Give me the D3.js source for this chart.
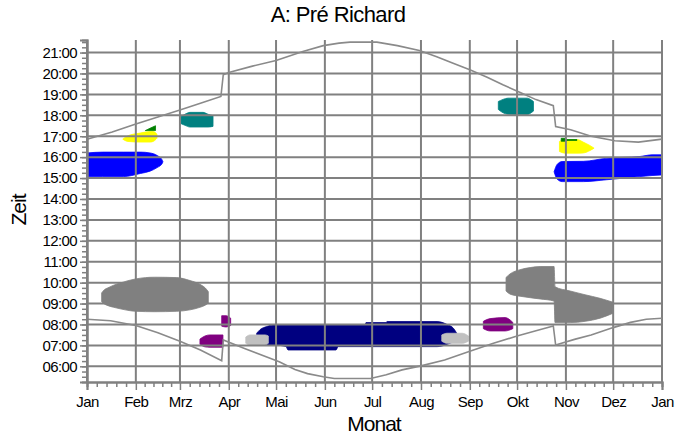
<!DOCTYPE html>
<html><head><meta charset="utf-8">
<script src="https://cdn.jsdelivr.net/npm/d3@7"></script>
<style>
body{margin:0;background:#fff}
text{font-family:Arial,"Liberation Sans",sans-serif;fill:#000}
</style>
</head><body>
<svg id="c" width="676" height="437"></svg>
<script>
// ---- data (day of year, hours) ----
const title = "A: Pré Richard";
const xTitle = "Monat";
const yTitle = "Zeit";
const monthLabels = ["Jan","Feb","Mrz","Apr","Mai","Jun","Jul","Aug","Sep","Okt","Nov","Dez","Jan"];
const hourTicks = [6,7,8,9,10,11,12,13,14,15,16,17,18,19,20,21];

// sunrise / sunset: [day, hour]
const sunrise = [[0,8.25],[15,8.18],[31,7.95],[45,7.6],[59,7.2],[72,6.78],[85.5,6.27],[86.5,7.26],[100,6.85],[122,6.22],[132,5.85],[140,5.65],[150,5.5],[157,5.42],[180,5.42],[190,5.6],[200,5.83],[212,6.02],[227,6.3],[243,6.72],[258,7.1],[273,7.45],[285,7.7],[296,7.93],[297.5,7.02],[310,7.3],[320,7.5],[334,7.85],[345,8.1],[355,8.25],[365,8.3]];
const sunset = [[0,16.86],[16,17.2],[31,17.58],[45,17.92],[59,18.25],[72,18.58],[85,18.9],[86.5,19.94],[90,20.05],[105,20.35],[120,20.62],[137,21.05],[150,21.33],[160,21.45],[167,21.5],[184,21.5],[197,21.33],[211,21.1],[222,20.8],[232,20.5],[243,20.18],[254,19.82],[264,19.46],[275,19.09],[285,18.75],[296,18.46],[297.5,17.46],[307,17.31],[320,17.0],[335,16.78],[350,16.72],[365,16.86]];

// activity areas: [day, lowHour, highHour]
const grayWinter = [[9.3,9.09,9.51],[11,8.98,9.66],[13.3,8.9,9.75],[17,8.82,9.88],[21,8.75,9.98],[31,8.63,10.18],[43,8.61,10.26],[57,8.63,10.24],[65.4,8.7,10.1],[71.7,8.82,9.92],[75,8.92,9.75],[77,9.02,9.57]];
const grayAutumn = [[266,9.6,10.25],[268.6,9.45,10.42],[274.9,9.35,10.62],[281.3,9.28,10.72],[287.6,9.22,10.77],[296.5,9.12,10.77],[297.1,8.09,9.8],[306.7,8.09,9.6],[316.2,8.15,9.42],[325.7,8.3,9.25],[334,8.54,9.06]];
const blueJan = [[0,15.07,16.2],[10,15.07,16.24],[23,15.07,16.24],[34,15.22,16.24],[40,15.33,16.2],[44.5,15.5,16.08],[47.6,15.68,15.88],[48.2,15.78,15.78]];
const blueNov = [[296.5,15.3,15.3],[298.4,14.95,15.65],[301.6,14.83,15.79],[315,14.83,15.8],[330,14.92,15.95],[351,15.07,16.03],[358.7,15.12,16.11],[365,15.15,16.11]];
const yellowFeb = [[22.7,16.86,16.86],[26,16.75,17.02],[33.7,16.72,17.15],[40,16.72,17.22],[42,16.75,17.22],[44.4,16.9,17.1]];
const greenFeb = [[37,17.27,17.27],[40,17.27,17.38],[43.5,17.27,17.5]];
const yellowNov = [[299.9,16.27,16.75],[303.5,16.19,16.83],[311.7,16.19,16.83],[314.9,16.2,16.72],[319.4,16.32,16.55],[321.9,16.43,16.43]];
const greenNov = [[301,16.76,16.9],[304,16.76,16.9],[304.2,16.8,16.84],[311,16.8,16.84]];
const tealMar = [[59.7,17.6,17.94],[62.2,17.52,18.05],[65.4,17.44,18.14],[73.7,17.44,18.14],[76.8,17.44,18.05],[80,17.47,17.98]];
const tealOct = [[261.1,18.28,18.66],[264.1,18.12,18.76],[267.3,18.05,18.82],[279.4,18.03,18.82],[281.9,18.12,18.74],[283.4,18.2,18.66]];
const purpleMar = [[71.7,7.05,7.3],[74.9,6.93,7.45],[78.1,6.91,7.5],[86.3,6.91,7.5]];
const purpleApr = [[85.5,7.92,8.42],[88.3,7.88,8.42],[91.2,7.95,8.3]];
const purpleSep = [[251.6,7.8,8.15],[255.9,7.69,8.28],[265.4,7.69,8.33],[270.3,7.8,8.1]];
const navySummer = [[107.7,7.3,7.58],[109.8,7.1,7.75],[114.1,7.02,7.9],[118.1,7.02,7.98],[126.3,6.95,7.98],[127.6,6.78,7.98],[158.1,6.78,7.98],[159.4,6.94,7.98],[176.5,6.94,7.98],[177.1,6.94,8.09],[189.8,6.94,8.09],[190.5,6.94,8.14],[222.2,6.94,8.14],[228.6,7.05,8.0],[232.6,7.2,7.82],[234.7,7.4,7.58]];
const lightApr = [[100.8,7.1,7.4],[103.5,7.02,7.5],[113,7.02,7.5],[115.1,7.1,7.45]];
const lightSep = [[225.2,7.2,7.5],[228.6,7.1,7.58],[238.1,7.1,7.58],[242.1,7.2,7.45]];

const areas = [
  {d: grayWinter, c: "#808080"},
  {d: grayAutumn, c: "#808080"},
  {d: blueJan, c: "#0000ff"},
  {d: blueNov, c: "#0000ff"},
  {d: yellowFeb, c: "#ffff00"},
  {d: greenFeb, c: "#008000"},
  {d: yellowNov, c: "#ffff00"},
  {d: greenNov, c: "#008000"},
  {d: tealMar, c: "#008080"},
  {d: tealOct, c: "#008080"},
  {d: navySummer, c: "#000080"},
  {d: lightApr, c: "#c0c0c0"},
  {d: lightSep, c: "#c0c0c0"},
  {d: purpleMar, c: "#800080"},
  {d: purpleApr, c: "#800080"},
  {d: purpleSep, c: "#800080"}
];

// ---- chart ----
const T0 = Date.UTC(2023,0,1), T1 = Date.UTC(2024,0,1);
const dt = d => new Date(T0 + d*864e5);
const svg = d3.select("#c");
const x = d3.scaleUtc().domain([T0, T1]).range([87, 662]);
const y = d3.scaleLinear().domain([5.25, 21.6]).range([382, 40]);
const grid = "#808080";

const area = d3.area().x(d => x(dt(d[0]))).y0(d => y(d[1])).y1(d => y(d[2])).curve(d3.curveMonotoneX);
svg.append("g").selectAll("path").data(areas).join("path")
  .attr("d", a => area(a.d)).attr("fill", a => a.c).attr("stroke", a => a.c).attr("stroke-width", 0.8);

const months = d3.utcMonth.range(new Date(T0), new Date(T1 + 864e5));

// gridlines
const g = svg.append("g");
g.selectAll("line.h").data(hourTicks).join("line")
  .attr("x1", x.range()[0]).attr("x2", x.range()[1])
  .attr("y1", d => y(d)).attr("y2", d => y(d))
  .attr("stroke", grid).attr("stroke-width", 2);
g.selectAll("line.v").data(months).join("line")
  .attr("x1", d => x(d)).attr("x2", d => x(d))
  .attr("y1", y.range()[1]).attr("y2", y.range()[0])
  .attr("stroke", grid).attr("stroke-width", 2);

// sun lines
const line = d3.line().x(d => x(dt(d[0]))).y(d => y(d[1]));
[sunrise, sunset].forEach(s => svg.append("path").attr("d", line(s))
  .attr("fill", "none").attr("stroke", "#8a8a8a").attr("stroke-width", 1.6));

// minor ticks
const quarter = [];
for (let h = 5.5; h <= 21.5; h += 0.25) quarter.push(h);
const yMinor = svg.append("g").attr("transform", "translate(87,0)")
  .call(d3.axisLeft(y).tickValues(quarter).tickSize(5).tickFormat(""));
const weekTicks = [];
months.slice(0, 12).forEach((m, i) => {
  const a = +m, b = +months[i + 1];
  for (let k = 1; k < 5; k++) weekTicks.push(new Date(a + (b - a) * k / 5));
});
const xMinor = svg.append("g").attr("transform", "translate(0,382)")
  .call(d3.axisBottom(x).tickValues(weekTicks).tickSize(5).tickFormat(""));

// major axes
const yAxis = svg.append("g").attr("transform", "translate(87,0)")
  .call(d3.axisLeft(y).tickValues(hourTicks).tickSize(7).tickPadding(3)
    .tickFormat(h => (h < 10 ? "0" : "") + h + ":00"));
const xAxis = svg.append("g").attr("transform", "translate(0,382)")
  .call(d3.axisBottom(x).tickValues(months).tickSize(8).tickPadding(6)
    .tickFormat((d, i) => monthLabels[i]));

[yMinor, xMinor, yAxis, xAxis].forEach(a => {
  a.selectAll(".domain").attr("stroke", grid).attr("stroke-width", 2);
  a.selectAll(".tick line").attr("stroke", grid).attr("stroke-width", 1.5);
});
[yAxis, xAxis].forEach(a => a.selectAll("text")
  .attr("font-size", 15).attr("letter-spacing", -0.6)
  .style("font-family", "Arial, 'Liberation Sans', sans-serif").attr("fill", "#000"));

// titles
svg.append("text").attr("x", 338).attr("y", 22).attr("text-anchor", "middle")
  .attr("font-size", 22).attr("letter-spacing", -0.6).text(title);
svg.append("text").attr("x", 374).attr("y", 431).attr("text-anchor", "middle")
  .attr("font-size", 21).attr("letter-spacing", -1).text(xTitle);
svg.append("text").attr("transform", "translate(26,210) rotate(-90)").attr("text-anchor", "middle")
  .attr("font-size", 21).attr("letter-spacing", -1).text(yTitle);
</script>
</body></html>
